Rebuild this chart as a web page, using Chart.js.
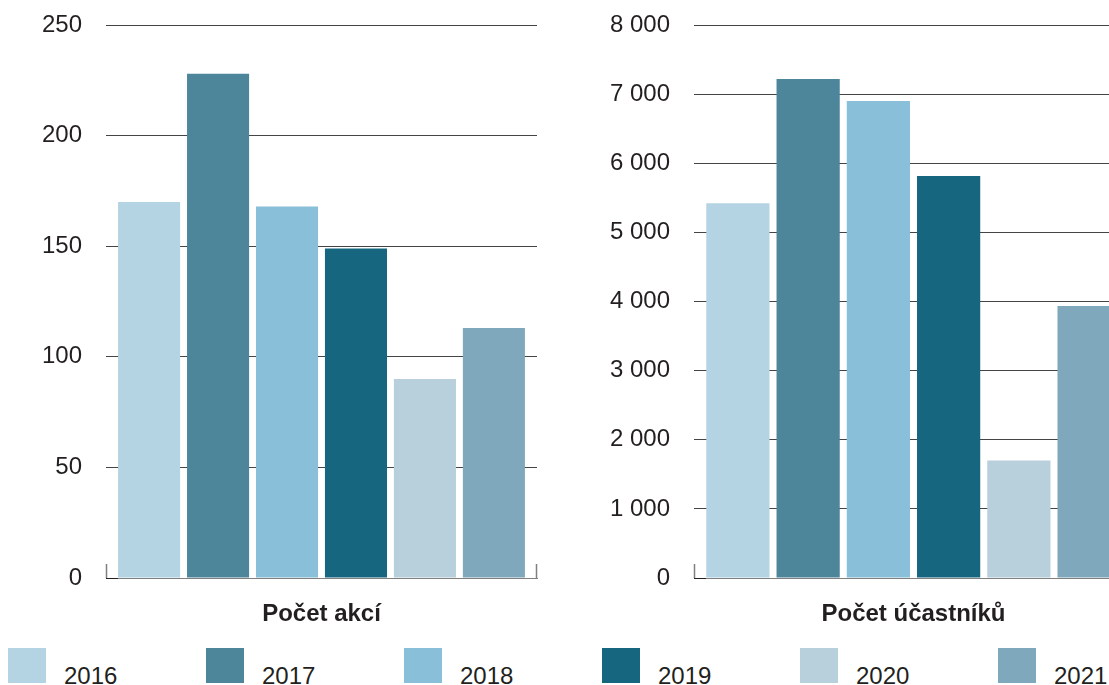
<!DOCTYPE html>
<html>
<head>
<meta charset="utf-8">
<script src="https://cdn.jsdelivr.net/npm/chart.js@4"></script>
<style>
  html, body { margin: 0; padding: 0; background: #fff; overflow: hidden; width: 1109px; height: 685px; }
  #wrap { position: relative; width: 1109px; height: 685px; overflow: hidden; }
  #left { position: absolute; left: 0; top: 0; }
  #right { position: absolute; left: 560px; top: 0; }
  #legend { position: absolute; left: 8px; top: 648px; display: flex; }
  .item { width: 198px; display: flex; align-items: flex-end; height: 35px; }
  .box { width: 38px; height: 35px; flex: none; }
  .lbl { margin-left: 18px; font: 24px "Liberation Sans", Arial, sans-serif; color: #231f20; line-height: 24px; position: relative; top: 5px; }
</style>
</head>
<body>
<div id="wrap">
  <canvas id="left" width="545" height="630"></canvas>
  <canvas id="right" width="580" height="630"></canvas>
  <div id="legend"></div>
</div>
<script>
var years = ['2016', '2017', '2018', '2019', '2020', '2021'];
var colors = ['#b4d4e4', '#4d869b', '#89bfd9', '#176680', '#b8d0dc', '#80a8bc'];
var akce = [170, 228, 168, 149, 90, 113];
var ucastnici = [5420, 7220, 6900, 5815, 1700, 3935];
var akceTicks = { max: 250, step: 50 };
var ucastniciTicks = { max: 8000, step: 1000 };

var FONT = '"Liberation Sans", Arial, sans-serif';
var TEXT = '#231f20';

function formatNumber(v) {
  return String(v).replace(/\B(?=(\d{3})+(?!\d))/g, ' ');
}

// little corner marks at the ends of the bottom axis
var edgeTicks = {
  id: 'edgeTicks',
  afterDraw(chart) {
    var a = chart.chartArea;
    var ctx = chart.ctx;
    ctx.save();
    ctx.strokeStyle = '#808080';
    ctx.lineWidth = 1.5;
    ctx.beginPath();
    ctx.moveTo(Math.round(a.left) + 0.5, a.bottom - 14);
    ctx.lineTo(Math.round(a.left) + 0.5, a.bottom);
    ctx.moveTo(Math.round(a.right) - 0.5, a.bottom - 14);
    ctx.lineTo(Math.round(a.right) - 0.5, a.bottom);
    ctx.stroke();
    ctx.strokeStyle = '#222';
    ctx.lineWidth = 1;
    ctx.beginPath();
    ctx.moveTo(a.left, Math.round(a.bottom) + 0.5);
    ctx.lineTo(a.left + 12, Math.round(a.bottom) + 0.5);
    ctx.stroke();
    ctx.restore();
  }
};

function makeChart(id, title, values, tickCfg, axisWidth, padRight) {
  var datasets = years.map(function (y, i) {
    return {
      label: y,
      data: [values[i]],
      backgroundColor: colors[i],
      borderWidth: 0,
      categoryPercentage: 0.96,
      barPercentage: 0.9
    };
  });
  return new Chart(document.getElementById(id), {
    type: 'bar',
    data: { labels: [title], datasets: datasets },
    plugins: [edgeTicks],
    options: {
      responsive: false,
      animation: false,
      layout: { padding: { top: 25, right: padRight, left: 0, bottom: 0 } },
      plugins: { legend: { display: false }, tooltip: { enabled: false } },
      scales: {
        x: {
          grid: { display: false },
          border: { display: true, color: '#808080', width: 1 },
          ticks: { color: TEXT, padding: 14, font: { family: FONT, size: 24, weight: 'bold' } },
          afterFit: function (s) { s.height = 52; }
        },
        y: {
          min: 0,
          max: tickCfg.max,
          grid: { color: '#444', lineWidth: 1, drawTicks: false },
          border: { display: false },
          ticks: {
            stepSize: tickCfg.step,
            padding: 24,
            color: TEXT,
            font: { family: FONT, size: 24 },
            callback: function (v) { return formatNumber(v); }
          },
          afterFit: function (s) {
            s.width = axisWidth;
            s.paddingTop = 0;
            s.paddingBottom = 0;
          }
        }
      }
    }
  });
}

makeChart('left', 'Počet akcí', akce, akceTicks, 106, 8);
makeChart('right', 'Počet účastníků', ucastnici, ucastniciTicks, 134, 7);

var legend = document.getElementById('legend');
years.forEach(function (y, i) {
  var item = document.createElement('div');
  item.className = 'item';
  item.innerHTML = '<div class="box" style="background:' + colors[i] + '"></div><div class="lbl">' + y + '</div>';
  legend.appendChild(item);
});
</script>
</body>
</html>
